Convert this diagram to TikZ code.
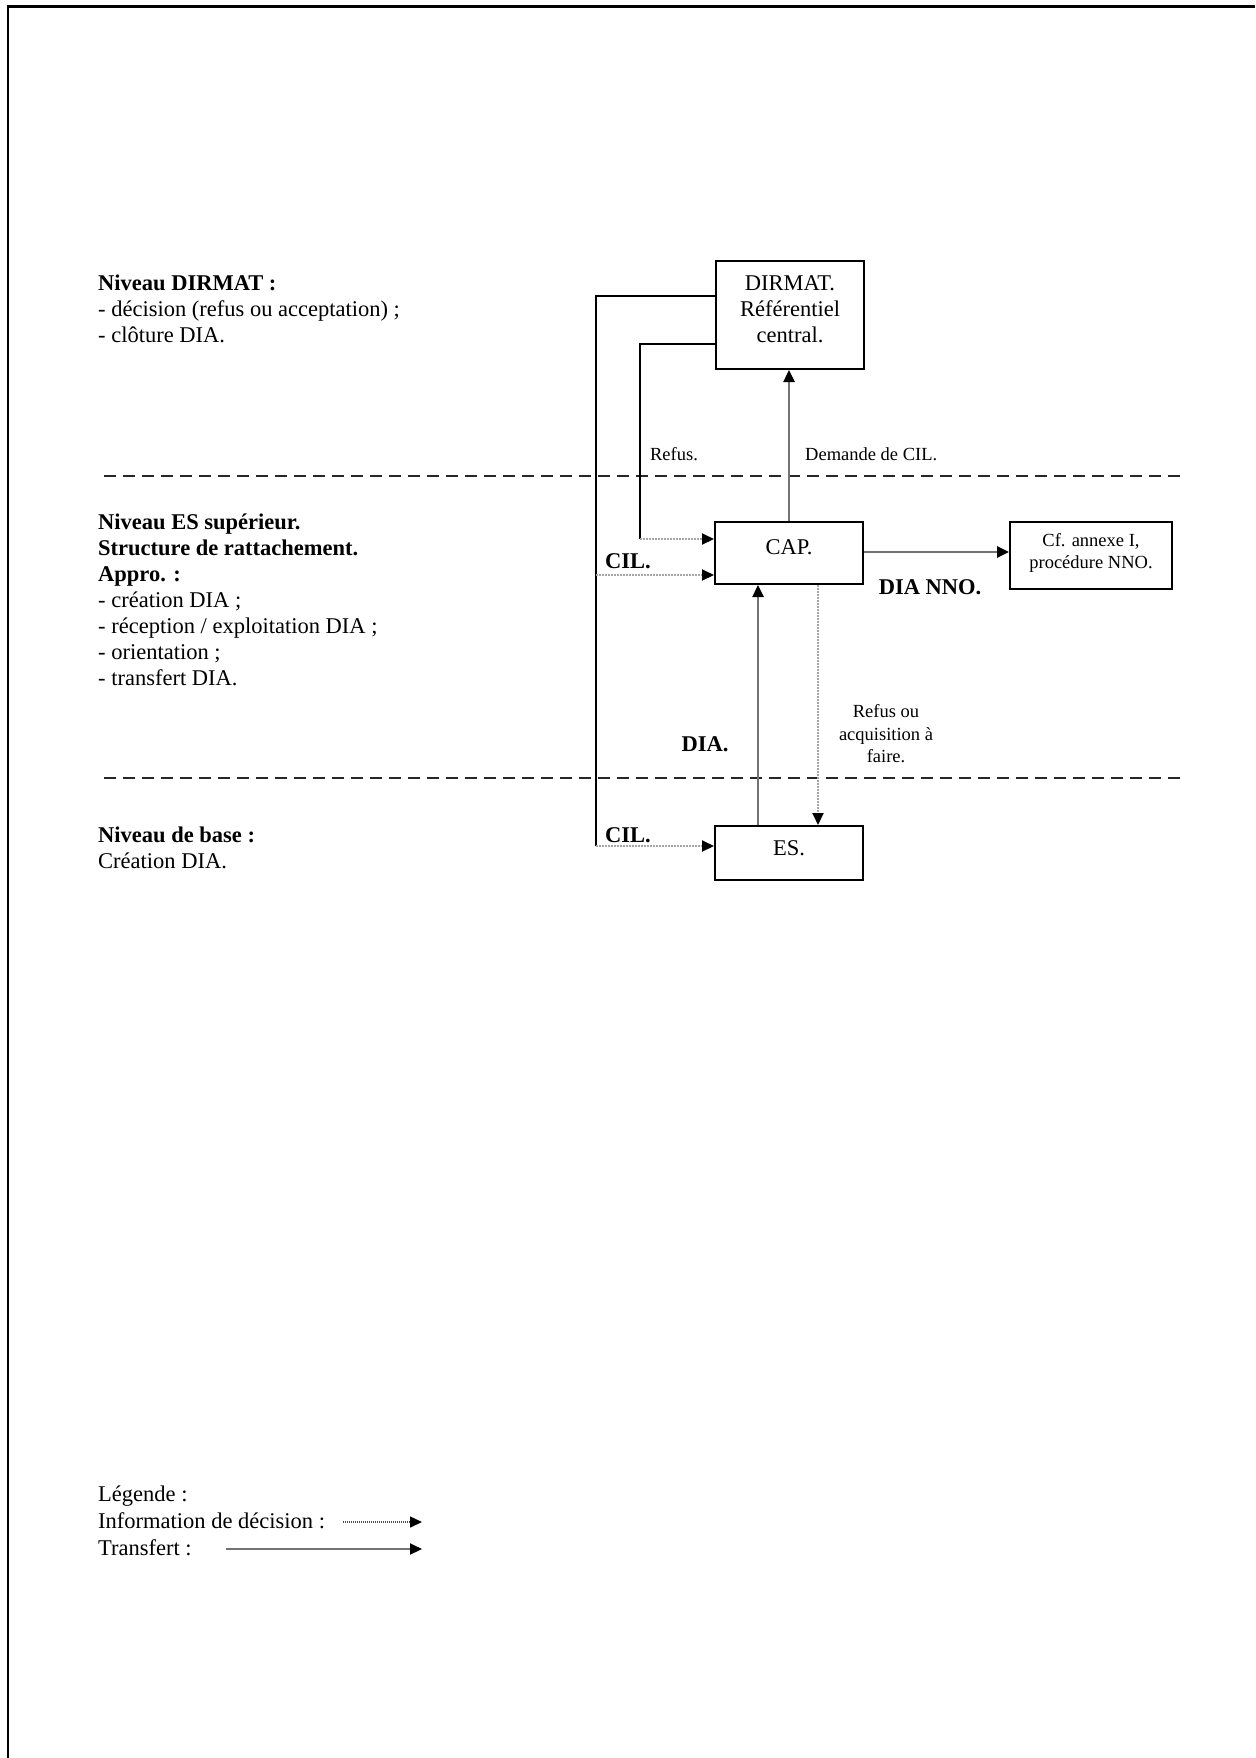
\documentclass[tikz,border=0pt]{standalone}
\usepackage{fontspec}
\setmainfont{Liberation Serif}
\usetikzlibrary{arrows.meta}
\tikzset{
  box/.style={draw=black, line width=2pt, inner sep=0pt},
  maintxt/.style={inner sep=0pt, anchor=base west, font=\fontsize{22.5}{26}\selectfont},
  boldtxt/.style={maintxt, font=\fontsize{22.5}{26}\selectfont\bfseries},
  smalltxt/.style={inner sep=0pt, font=\fontsize{18.5}{22.5}\selectfont, align=center},
  tip/.style={-{Triangle[length=12pt,width=11pt,color=black]}},
  transfer/.style={draw=black!55, line width=2.5pt, tip},
  info/.style={draw=black!35, line width=2pt, dash pattern=on 1.5pt off 1.5pt, tip},
  frameline/.style={draw=black, line width=2pt},
  sep/.style={draw=black!85, line width=2pt, dash pattern=on 12pt off 7pt},
}
\begin{document}
\begin{tikzpicture}[x=1pt,y=-1pt]
\useasboundingbox (0,0) rectangle (1255,1758);
% page border
\draw[line width=2.5pt] (8,1758) -- (8,6.5) -- (1255,6.5);

% separators
\draw[sep] (104,476) -- (1180,476);
\draw[sep] (104,778) -- (1180,778);

% boxes
\node[box, minimum width=148pt, minimum height=108pt] (dirmat) at (790,315) {};
\node[smalltxt, font=\fontsize{22.5}{26}\selectfont] (dirmatt) at (790,309) {DIRMAT.\\Référentiel\\central.};
\node[box, minimum width=148pt, minimum height=62pt] (cap) at (789,553) {};
\node[maintxt, anchor=center] (capt) at (789,547) {CAP.};
\node[box, minimum width=162pt, minimum height=67pt] (cf) at (1091,555.5) {};
\node[smalltxt] (cft) at (1091,553) {Cf. annexe I,\\procédure NNO.};
\node[box, minimum width=148pt, minimum height=54pt] (es) at (789,853) {};
\node[maintxt, anchor=center] (est) at (789,848) {ES.};

% coordinates for connectors
\coordinate (o1) at (596,296);
\coordinate (o2) at (596,575);
\coordinate (o3) at (596,846);
\coordinate (r1) at (640,344);
\coordinate (r2) at (640,539);

% CIL lines (outer)
\draw[frameline] (dirmat.west |- o1) -- (o1) -- (o3);
\draw[info] (o2) -- (cap.west |- o2);
\draw[info] (o3) -- (es.west |- o3);
% Refus line
\draw[frameline] (dirmat.west |- r1) -- (r1) -- (r2);
\draw[info] (r2) -- (cap.west |- r2);

% transfers
\draw[transfer] (cap.north -| 789,0) -- (dirmat.south -| 789,0);
\draw[transfer] (cap.east |- 0,552) -- (cf.west |- 0,552);
\draw[transfer] (es.north -| 758,0) -- (cap.south -| 758,0);
\draw[info] (cap.south -| 818,0) -- (es.north -| 818,0);

% connector labels
\node[smalltxt] (lrefus) at (674,454) {Refus.};
\node[smalltxt, anchor=west] (ldem) at (805,454) {Demande de CIL.};
\node[boldtxt] (lcil1) at (605,568) {CIL.};
\node[boldtxt] (lcil2) at (605,842) {CIL.};
\node[boldtxt, anchor=base] (ldiannno) at (930,594) {DIA NNO.};
\node[boldtxt, anchor=base] (ldia) at (705,751) {DIA.};
\node[smalltxt] (lrefusou) at (886,734) {Refus ou\\acquisition à\\faire.};

% left texts
\node[boldtxt] (t1) at (98,290) {Niveau DIRMAT :};
\node[maintxt] (t2) at (98,316) {- décision (refus ou acceptation) ;};
\node[maintxt] (t3) at (98,342) {- clôture DIA.};

\node[boldtxt] (t4) at (98,529) {Niveau ES supérieur.};
\node[boldtxt] (t5) at (98,555) {Structure de rattachement.};
\node[boldtxt] (t6) at (98,581) {Appro. :};
\node[maintxt] (t7) at (98,607) {- création DIA ;};
\node[maintxt] (t8) at (98,633) {- réception / exploitation DIA ;};
\node[maintxt] (t9) at (98,659) {- orientation ;};
\node[maintxt] (t10) at (98,685) {- transfert DIA.};

\node[boldtxt] (t11) at (98,842) {Niveau de base :};
\node[maintxt] (t12) at (98,868) {Création DIA.};

% legend
\node[maintxt] (g1) at (98,1501) {Légende :};
\node[maintxt] (g2) at (98,1528) {Information de décision :};
\node[maintxt] (g3) at (98,1555) {Transfert :};
\coordinate (ga) at (343,1522);
\coordinate (gb) at (422,1522);
\coordinate (gc) at (226,1549);
\coordinate (gd) at (422,1549);
\draw[info, draw=black!70, line width=1.5pt, dash pattern=on 1pt off 1pt] (ga) -- (gb);
\draw[transfer, line width=2pt] (gc) -- (gd);
\end{tikzpicture}
\end{document}
